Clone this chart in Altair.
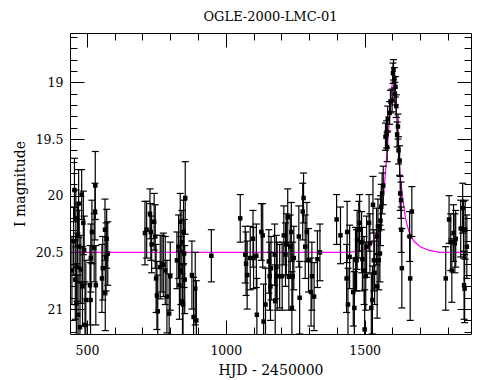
import altair as alt
import pandas as pd

chart_title = "OGLE-2000-LMC-01"
x_title = "HJD - 2450000"
y_title = "I magnitude"

# observations: HJD-2450000, I magnitude, error
hjd = [446, 452, 455, 458, 460, 462, 464, 466, 468, 470, 472, 475, 478, 481, 484, 487, 490, 493, 496,
       511, 513, 514, 518, 526, 529, 530, 532, 554, 557, 565, 566, 569, 571, 575,
       709, 715, 727, 730, 733, 742, 746, 749, 752, 755, 764, 770, 775, 782, 788, 796, 800,
       824, 830, 833, 836, 838, 842, 844, 846, 848, 850, 852, 854, 878, 884, 890, 894, 948,
       1052, 1070, 1073, 1077, 1088, 1098, 1100, 1110, 1112, 1128, 1133, 1136, 1143, 1155, 1158,
       1161, 1163, 1176, 1178, 1182, 1185, 1194, 1203, 1209, 1215, 1218, 1223, 1227, 1232, 1236,
       1238, 1241, 1245, 1263, 1266, 1277, 1280, 1286, 1292, 1298, 1307, 1310, 1318, 1330, 1339,
       1399, 1413, 1435, 1437, 1440, 1446, 1459, 1463, 1467, 1471, 1473, 1479, 1482, 1489, 1492,
       1498, 1500, 1504, 1507, 1516, 1519, 1524, 1528, 1530, 1533, 1536, 1543, 1545, 1548, 1551,
       1555, 1557, 1560, 1563, 1567, 1575, 1579, 1581, 1583, 1590, 1593, 1599, 1602, 1604, 1607,
       1609, 1611, 1614, 1617, 1620, 1622, 1626, 1628, 1631, 1632, 1634, 1662, 1664, 1670,
       1792, 1804, 1810, 1814, 1820, 1825, 1828, 1846, 1853, 1856, 1858, 1860, 1862, 1868]
mag = [20.66, 20.40, 19.95, 20.74, 20.20, 20.95, 20.63, 20.35, 21.05, 20.07, 20.45, 21.16, 20.65, 19.99, 20.80, 20.24, 20.48, 21.14, 20.92,
       20.79, 20.92, 20.55, 20.32, 20.46, 20.14, 19.91, 20.79, 20.73, 20.64, 20.30, 20.86, 20.54, 20.38, 20.51,
       20.33, 20.30, 20.16, 20.32, 20.43, 20.23, 20.36, 20.73, 20.88, 21.02, 20.63, 20.60, 20.61, 20.66, 20.89, 21.04, 20.71,
       20.57, 20.45, 20.79, 20.23, 20.66, 20.41, 20.93, 20.96, 20.32, 20.51, 20.74, 20.02, 20.70, 21.07, 20.82, 21.10, 20.53,
       20.20, 20.52, 20.60, 20.70, 20.55, 20.38, 20.55, 20.53, 21.05, 20.32, 20.35, 21.11, 20.96, 20.58, 20.71,
       20.80, 20.64, 20.52, 20.93, 20.63, 20.71, 20.71, 20.71, 20.35, 20.52, 20.43, 20.19, 20.71, 20.45, 20.32,
       20.99, 20.71, 20.55, 20.36, 20.90, 20.14, 20.02, 20.45, 20.32, 20.57, 20.85, 20.71, 20.89, 20.56, 20.50,
       20.21, 20.35, 20.73, 20.32, 20.96, 20.54, 20.85, 20.99, 20.56, 20.57, 20.39, 20.30, 20.24, 20.41, 20.56,
       20.66, 21.18, 20.71, 20.45, 20.24, 20.42, 20.99, 20.92, 20.08, 20.57, 20.68, 20.36, 20.80, 20.27, 20.57,
       20.51, 20.22, 20.10, 19.98, 19.91, 19.48, 19.46, 19.57, 19.32, 19.27, 19.17, 19.16, 18.92, 18.89, 18.96,
       19.10, 19.04, 19.21, 19.46, 19.39, 19.60, 19.69, 19.98, 20.04, 20.30, 20.64, 20.36, 20.73, 20.14,
       20.73, 20.21, 20.41, 20.66, 20.33, 20.42, 20.38, 20.29, 20.11, 20.30, 20.79, 20.82, 20.30, 20.45]
err = [0.30, 0.30, 0.28, 0.35, 0.25, 0.35, 0.30, 0.28, 0.35, 0.30, 0.32, 0.40, 0.30, 0.22, 0.35, 0.28, 0.30, 0.38, 0.35,
       0.35, 0.33, 0.30, 0.28, 0.30, 0.25, 0.30, 0.35, 0.30, 0.28, 0.27, 0.33, 0.30, 0.26, 0.28,
       0.28, 0.25, 0.22, 0.25, 0.25, 0.25, 0.28, 0.30, 0.30, 0.32, 0.28, 0.25, 0.28, 0.30, 0.32, 0.35, 0.30,
       0.25, 0.28, 0.30, 0.25, 0.30, 0.28, 0.33, 0.35, 0.28, 0.30, 0.30, 0.32, 0.30, 0.35, 0.32, 0.35, 0.23,
       0.21, 0.25, 0.28, 0.30, 0.28, 0.25, 0.27, 0.28, 0.32, 0.25, 0.28, 0.33, 0.32, 0.28, 0.30,
       0.30, 0.28, 0.27, 0.32, 0.28, 0.30, 0.28, 0.30, 0.26, 0.28, 0.27, 0.25, 0.30, 0.28, 0.26,
       0.32, 0.30, 0.28, 0.27, 0.32, 0.25, 0.22, 0.28, 0.26, 0.28, 0.30, 0.30, 0.30, 0.25, 0.25,
       0.22, 0.25, 0.30, 0.27, 0.32, 0.28, 0.30, 0.32, 0.28, 0.27, 0.26, 0.25, 0.25, 0.27, 0.28,
       0.30, 0.35, 0.30, 0.27, 0.25, 0.26, 0.30, 0.30, 0.25, 0.27, 0.28, 0.25, 0.28, 0.24, 0.26,
       0.25, 0.22, 0.20, 0.18, 0.17, 0.12, 0.12, 0.13, 0.11, 0.10, 0.10, 0.10, 0.09, 0.09, 0.09,
       0.10, 0.09, 0.10, 0.11, 0.11, 0.12, 0.13, 0.15, 0.16, 0.20, 0.35, 0.22, 0.37, 0.22,
       0.28, 0.21, 0.25, 0.28, 0.25, 0.26, 0.25, 0.25, 0.22, 0.25, 0.30, 0.30, 0.26, 0.28]

# microlensing model curve
model_hjd = [450, 1440, 1480, 1510, 1530, 1545, 1555, 1563, 1570, 1575, 1580, 1585, 1590, 1595, 1600,
             1603, 1606, 1610, 1615, 1620, 1625, 1630, 1637, 1647, 1660, 1677, 1700, 1730, 1770, 1870]
model_mag = [20.50, 20.50, 20.49, 20.46, 20.41, 20.34, 20.25, 20.13, 19.95, 19.79, 19.64, 19.48, 19.31, 19.14, 18.99,
             18.95, 18.99, 19.14, 19.33, 19.55, 19.72, 19.87, 20.02, 20.20, 20.32, 20.40, 20.45, 20.48, 20.50, 20.50]

x_label_values = [500, 1000, 1500]
x_tick_values = [500, 600, 700, 800, 900, 1000, 1100, 1200, 1300, 1400, 1500, 1600, 1700, 1800]
y_label_values = [19, 19.5, 20, 20.5, 21]
y_tick_values = [18.6, 18.7, 18.8, 18.9, 19.0, 19.1, 19.2, 19.3, 19.4, 19.5, 19.6, 19.7, 19.8, 19.9,
                 20.0, 20.1, 20.2, 20.3, 20.4, 20.5, 20.6, 20.7, 20.8, 20.9, 21.0, 21.1, 21.2]

W, H = 401, 301
FONT = "DejaVu Serif"

df = pd.DataFrame({"t": hjd, "mag": mag, "err": err})
df["lo"] = df["mag"] - df["err"]
df["hi"] = df["mag"] + df["err"]
model = pd.DataFrame({"t": model_hjd, "mag": model_mag})
title_df = pd.DataFrame({"label": [chart_title]})

xs = alt.Scale(domain=[439, 1883], nice=False, zero=False)
ys = alt.Scale(domain=[18.565, 21.22], reverse=True, nice=False, zero=False)

x_major = "datum.value % 500 === 0"
y_major = "abs(datum.value * 2 - round(datum.value * 2)) < 0.001"


def tick_axis(orient, offset, values, test):
    return alt.Axis(orient=orient, offset=offset, values=values, labels=False, domain=False,
                    grid=False, title=None, ticks=True, tickColor="black", tickWidth=1,
                    tickSize={"condition": {"test": test, "value": 14}, "value": 7})


label_x_axis = alt.Axis(orient="bottom", values=x_label_values, ticks=False, domain=False, grid=False,
                        labelPadding=10, title=x_title, titlePadding=7, labelFontSize=12.5,
                        titleFontSize=14, titleFontWeight="normal", format="d")
label_y_axis = alt.Axis(orient="left", values=y_label_values, ticks=False, domain=False, grid=False,
                        labelPadding=7, title=y_title, titlePadding=8, labelFontSize=12.5,
                        titleFontSize=14, titleFontWeight="normal", format="~g")

line = alt.Chart(model).mark_line(color="#ff00ff", strokeWidth=1.2, clip=True).encode(
    x=alt.X("t:Q", scale=xs, axis=tick_axis("bottom", -H, x_tick_values, x_major)),
    y=alt.Y("mag:Q", scale=ys, axis=tick_axis("left", -W, y_tick_values, y_major)),
)

bars = alt.Chart(df).mark_rule(color="black", strokeWidth=1.2, clip=True).encode(
    x=alt.X("t:Q", scale=xs, axis=tick_axis("top", -H, x_tick_values, x_major)),
    y=alt.Y("lo:Q", scale=ys, axis=tick_axis("right", -W, y_tick_values, y_major)),
    y2="hi:Q",
)

cap_lo = alt.Chart(df).mark_tick(color="black", orient="horizontal", size=7, thickness=1.2,
                                 clip=True, opacity=1).encode(
    x=alt.X("t:Q", scale=xs, axis=None),
    y=alt.Y("lo:Q", scale=ys, axis=None),
)
cap_hi = alt.Chart(df).mark_tick(color="black", orient="horizontal", size=7, thickness=1.2,
                                 clip=True, opacity=1).encode(
    x=alt.X("t:Q", scale=xs, axis=None),
    y=alt.Y("hi:Q", scale=ys, axis=None),
)

points = alt.Chart(df).mark_point(shape="square", filled=True, size=20, color="black",
                                  opacity=1, clip=True).encode(
    x=alt.X("t:Q", scale=xs, axis=label_x_axis),
    y=alt.Y("mag:Q", scale=ys, axis=label_y_axis),
)

# chart title as a text mark placed above the frame
title_mark = alt.Chart(title_df).mark_text(
    font=FONT, fontSize=13, color="black", align="center", baseline="alphabetic", dy=-12
).encode(
    text="label:N",
    x=alt.value(W / 2),
    y=alt.value(0),
)

chart = alt.layer(line, bars, cap_lo, cap_hi, points, title_mark).resolve_axis(
    x="independent", y="independent"
).properties(
    width=W, height=H,
    autosize=alt.AutoSizeParams(type="none"),
    padding={"left": 62, "top": 25, "right": 10, "bottom": 46},
).configure_view(
    stroke="black", strokeWidth=1
).configure_axis(
    labelFont=FONT, titleFont=FONT, labelColor="black", titleColor="black"
)

chart.save("out.html", embed_options={"renderer": "svg", "actions": False})
